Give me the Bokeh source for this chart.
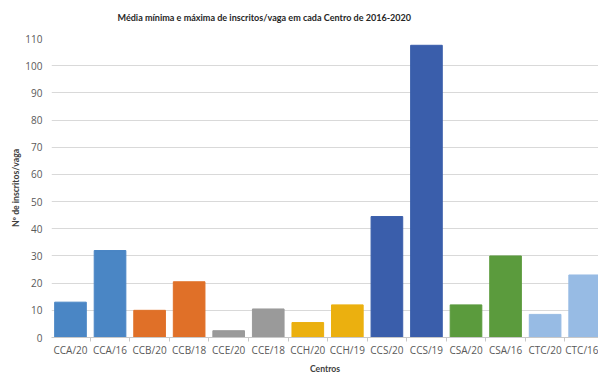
from bokeh.plotting import figure
from bokeh.models import ColumnDataSource, FixedTicker, Range1d, Title
from bokeh.embed import file_html
from bokeh.resources import INLINE

categories = ["CCA/20", "CCA/16", "CCB/20", "CCB/18", "CCE/20", "CCE/18", "CCH/20",
              "CCH/19", "CCS/20", "CCS/19", "CSA/20", "CSA/16", "CTC/20", "CTC/16"]
values = [13, 32, 10, 20.5, 2.5, 10.5, 5.5, 12, 44.5, 107.5, 12, 30, 8.5, 23]
colors = ["#4a86c5", "#4a86c5", "#e07028", "#e07028", "#9a9a9a", "#9a9a9a", "#ebb00f",
          "#ebb00f", "#3a5eab", "#3a5eab", "#5b9b3d", "#5b9b3d", "#97bbe4", "#97bbe4"]
y_ticks = [0, 10, 20, 30, 40, 50, 60, 70, 80, 90, 100, 110]
title_text = "Média mínima e máxima de inscritos/vaga em cada Centro de 2016-2020"

xs = [i + 0.5 for i in range(len(categories))]
src = ColumnDataSource(dict(x=xs, top=values, color=colors))

TFONT = "Lato"
LFONT = "Open Sans"

p = figure(width=598, height=376, output_backend="svg", toolbar_location=None,
           x_range=Range1d(0.02, 13.85), y_range=Range1d(0, 110),
           min_border_left=51, min_border_right=0, min_border_top=38, min_border_bottom=0)
p.title = None
p.add_layout(Title(text=" ", text_font_size="8px", standoff=0), "above")
p.add_layout(Title(text=title_text, align="left", offset=66, text_font=TFONT,
                   text_font_size="6.8pt", text_font_style="bold",
                   text_color="#262626"), "above")
p.outline_line_color = None

p.vbar(x="x", top="top", width=0.8, color="color", source=src)

p.xaxis.ticker = FixedTicker(ticks=xs, minor_ticks=list(range(len(categories) + 1)))
p.xaxis.major_label_overrides = {x: c for x, c in zip(xs, categories)}
p.xaxis.major_tick_line_color = None
p.xaxis.major_tick_in = 0
p.xaxis.major_tick_out = 0
p.xaxis.minor_tick_line_color = "#c8c8c8"
p.xaxis.minor_tick_in = 0
p.xaxis.minor_tick_out = 4
p.xaxis.axis_line_color = "#c8c8c8"
p.xaxis.axis_label = "Centros"

p.yaxis.ticker = FixedTicker(ticks=y_ticks)
p.yaxis.major_tick_line_color = None
p.yaxis.major_tick_out = 0
p.yaxis.major_tick_in = 0
p.yaxis.minor_tick_line_color = None
p.yaxis.axis_line_color = None
p.yaxis.axis_label = "Nº de inscritos/vaga"

for ax in (p.xaxis, p.yaxis):
    ax.major_label_text_font = LFONT
    ax.major_label_text_font_size = "7.5pt"
    ax.major_label_text_color = "#595959"
    ax.axis_label_text_font = TFONT
    ax.axis_label_text_font_size = "6.5pt"
    ax.axis_label_text_font_style = "bold"
    ax.axis_label_text_color = "#404040"
p.xaxis.major_label_standoff = 1
p.xaxis.axis_label_standoff = 3
p.yaxis.major_label_standoff = 9
p.yaxis.axis_label_standoff = 1

p.xgrid.grid_line_color = None
p.ygrid.ticker = FixedTicker(ticks=y_ticks)
p.ygrid.grid_line_color = "#d9d9d9"

open("out.html", "w").write(file_html(p, INLINE))
